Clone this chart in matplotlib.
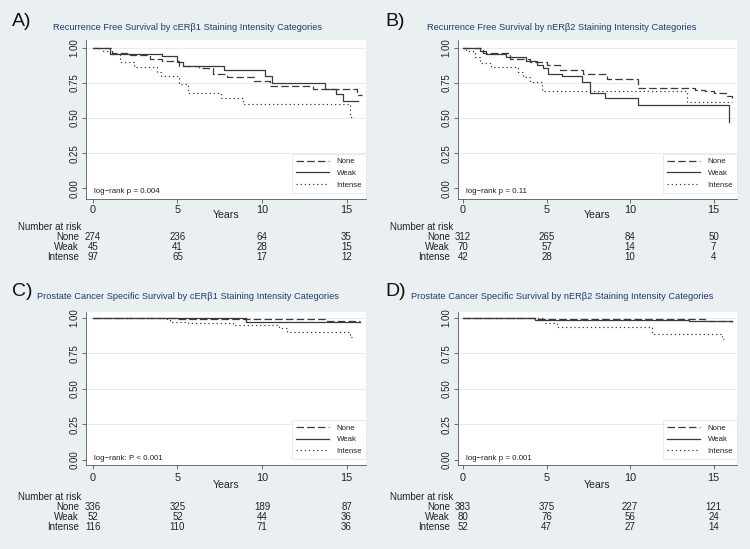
"""
Kaplan-Meier panels (RFS / PCSS by ERβ staining intensity), Stata-like look.
Writes out.png.
"""
import matplotlib
matplotlib.use("Agg")
import matplotlib.pyplot as plt
from matplotlib.transforms import blended_transform_factory as blend

W, H = 750, 549
BG = "#eaf0f2"; INK = "#3a3a3a"; NAVY = "#213d68"; GRID = "#e4ecef"; TXT = "#222222"
plt.rcParams.update({"font.family": ["Liberation Sans", "DejaVu Sans"],
                     "axes.linewidth": 0.6, "axes.edgecolor": "#555555"})

# ---- data: step curves (years, survival) ------------------------------------
groups = ["None", "Weak", "Intense"]
risk_years = [0, 5, 10, 15]

A_none_t = [0, 1.1, 2.2, 3.4, 4.1, 5.1, 6.3, 7.1, 7.9, 9.5, 10.5, 13.0, 15.6, 15.9]
A_none_s = [1.0, 0.96, 0.945, 0.92, 0.905, 0.87, 0.855, 0.81, 0.79, 0.765, 0.725, 0.71, 0.665, 0.665]
A_weak_t = [0, 1.0, 4.1, 4.95, 5.3, 7.75, 10.2, 10.6, 13.7, 14.4, 14.8, 15.7]
A_weak_s = [1.0, 0.957, 0.94, 0.90, 0.87, 0.84, 0.80, 0.75, 0.71, 0.67, 0.62, 0.62]
A_int_t = [0, 0.6, 1.0, 1.6, 2.4, 3.8, 4.0, 5.1, 5.6, 7.6, 8.9, 15.2, 15.3]
A_int_s = [1.0, 0.98, 0.955, 0.90, 0.865, 0.83, 0.80, 0.74, 0.68, 0.645, 0.60, 0.51, 0.51]

B_none_t = [0, 1.2, 2.8, 4.0, 5.0, 5.8, 7.2, 8.6, 10.5, 13.9, 14.5, 15.0, 15.8, 16.1]
B_none_s = [1.0, 0.96, 0.92, 0.90, 0.88, 0.84, 0.815, 0.775, 0.715, 0.70, 0.69, 0.68, 0.655, 0.64]
B_weak_t = [0, 1.0, 1.4, 2.6, 3.8, 4.4, 4.8, 5.1, 5.9, 7.1, 7.6, 8.5, 10.5, 15.9, 15.95]
B_weak_s = [1.0, 0.98, 0.955, 0.935, 0.905, 0.875, 0.855, 0.815, 0.80, 0.76, 0.68, 0.645, 0.59, 0.47, 0.47]
B_int_t = [0, 0.2, 0.7, 1.0, 1.7, 3.3, 3.6, 4.0, 4.7, 13.4, 16.1]
B_int_s = [1.0, 0.975, 0.935, 0.89, 0.86, 0.825, 0.795, 0.76, 0.695, 0.615, 0.615]

C_none_t = [0, 2.4, 5.0, 13.8, 15.8]
C_none_s = [1.0, 0.997, 0.99, 0.979, 0.979]
C_weak_t = [0, 9.05, 13.8, 15.8]
C_weak_s = [1.0, 0.972, 0.968, 0.968]
C_int_t = [0, 4.2, 4.55, 5.6, 8.3, 11.0, 11.5, 15.2, 15.3]
C_int_s = [1.0, 0.99, 0.972, 0.961, 0.949, 0.926, 0.90, 0.867, 0.867]

D_none_t = [0, 3.5, 4.5, 14.5, 16.1]
D_none_s = [1.0, 0.995, 0.99, 0.975, 0.97]
D_weak_t = [0, 4.3, 13.5, 16.1]
D_weak_s = [1.0, 0.985, 0.98, 0.98]
D_int_t = [0, 4.9, 5.6, 11.3, 15.5, 15.6]
D_int_s = [1.0, 0.965, 0.937, 0.888, 0.85, 0.85]

# number at risk at 0/5/10/15 years
A_risk_none = [274, 236, 64, 35]; A_risk_weak = [45, 41, 28, 15]; A_risk_int = [97, 65, 17, 12]
B_risk_none = [312, 265, 84, 50]; B_risk_weak = [70, 57, 14, 7];  B_risk_int = [42, 28, 10, 4]
C_risk_none = [336, 325, 189, 87]; C_risk_weak = [52, 52, 44, 36]; C_risk_int = [116, 110, 71, 36]
D_risk_none = [383, 375, 227, 121]; D_risk_weak = [80, 76, 56, 24]; D_risk_int = [52, 47, 27, 14]

titles = ["Recurrence Free Survival by cERβ1 Staining Intensity Categories",
          "Recurrence Free Survival by nERβ2 Staining Intensity Categories",
          "Prostate Cancer Specific Survival by cERβ1 Staining Intensity Categories",
          "Prostate Cancer Specific Survival by nERβ2 Staining Intensity Categories"]
letters = ["A)", "B)", "C)", "D)"]
pvals = ["log\u2212rank p = 0.004", "log\u2212rank p = 0.11",
         "log\u2212rank: P < 0.001", "log\u2212rank p = 0.001"]

# ---- layout (pixel positions) ----------------------------------------------
fx = lambda px: px / W
fy = lambda px: 1 - px / H
cols = [dict(l=86, r=366, xlim=(-0.41, 16.15), cx=188, lab=12, nar=18, rlab=79),
        dict(l=458, r=737, xlim=(-0.30, 16.40), cx=562, lab=385, nar=390, rlab=450)]
rows = [dict(t=40, b=199, ylim=(-0.075, 1.055), ly=22, ty=27, pad=1.5, yrs=215, nar=226.5, rr=237.3),
        dict(t=312, b=465, ylim=(-0.037, 1.04), ly=291, ty=296.5, pad=3.0, yrs=485.5, nar=497, rr=507.3)]
panels = [
    ([(A_none_t, A_none_s), (A_weak_t, A_weak_s), (A_int_t, A_int_s)], [A_risk_none, A_risk_weak, A_risk_int]),
    ([(B_none_t, B_none_s), (B_weak_t, B_weak_s), (B_int_t, B_int_s)], [B_risk_none, B_risk_weak, B_risk_int]),
    ([(C_none_t, C_none_s), (C_weak_t, C_weak_s), (C_int_t, C_int_s)], [C_risk_none, C_risk_weak, C_risk_int]),
    ([(D_none_t, D_none_s), (D_weak_t, D_weak_s), (D_int_t, D_int_s)], [D_risk_none, D_risk_weak, D_risk_int]),
]
styles = [dict(ls=(0, (6, 2.6)), lw=0.9), dict(ls="-", lw=0.9), dict(ls=(0, (1.1, 2.4)), lw=0.85)]

fig = plt.figure(figsize=(W / 100, H / 100), dpi=100, facecolor=BG)

for i, (curves, risk) in enumerate(panels):
    c, r = cols[i % 2], rows[i // 2]
    ax = fig.add_axes([fx(c["l"]), fy(r["b"]), fx(c["r"] - c["l"]), (r["b"] - r["t"]) / H])
    ax.set_facecolor("white")
    for (t, s), g, st in zip(curves, groups, styles):
        ax.step(t, s, where="post", color=INK, label=g, **st)
    ax.set_xlim(*c["xlim"]); ax.set_ylim(*r["ylim"])
    ax.set_xticks(risk_years)
    ax.set_yticks([0, 0.25, 0.5, 0.75, 1.0])
    ax.set_yticklabels(["0.00", "0.25", "0.50", "0.75", "1.00"], rotation=90, va="center")
    for y in [0.25, 0.5, 0.75, 1.0]:
        ax.axhline(y, color=GRID, lw=0.7, zorder=0)
    ax.tick_params(axis="x", labelsize=7.8, length=3, width=0.6, pad=r["pad"], colors="#555555", labelcolor=TXT)
    ax.tick_params(axis="y", labelsize=7, length=3, width=0.6, pad=1.5, colors="#555555", labelcolor=TXT)
    for sp in ["top", "right"]:
        ax.spines[sp].set_visible(False)
    leg = ax.legend(loc="lower right", bbox_to_anchor=(1.0, 0.04), fontsize=5.6, frameon=True,
                    fancybox=False, edgecolor="#d5dde1", handlelength=4.2, handletextpad=1.0,
                    labelspacing=0.55, borderpad=0.5, borderaxespad=0)
    leg.get_frame().set_linewidth(0.5)
    for txt in leg.get_texts():
        txt.set_color(TXT)
    ax.text(0.03, 0.045, pvals[i], transform=ax.transAxes, fontsize=5.7, color=TXT, va="center")

    # panel letter, title, axis title
    fig.text(fx(c["lab"]), fy(r["ly"]), letters[i], fontsize=14, color="#111111", va="center")
    fig.text(fx(c["cx"]), fy(r["ty"]), titles[i], fontsize=6.7, color=NAVY, ha="center", va="center")
    tr = blend(ax.transData, fig.transFigure)
    ax.text(sum(c["xlim"]) / 2, fy(r["yrs"]), "Years", transform=tr, fontsize=7.6,
            ha="center", va="center", color=TXT, clip_on=False)

    # number-at-risk table
    fig.text(fx(c["nar"]), fy(r["nar"]), "Number at risk", fontsize=7, color=TXT, va="center")
    for k, (g, vals) in enumerate(zip(groups, risk)):
        yy = fy(r["rr"] + 10 * k)
        fig.text(fx(c["rlab"]), yy, g, fontsize=7, color=TXT, ha="right", va="center")
        for yr, v in zip(risk_years, vals):
            ax.text(yr, yy, str(v), transform=tr, fontsize=7, color=TXT,
                    ha="center", va="center", clip_on=False)

fig.savefig("out.png", dpi=100, facecolor=BG)
